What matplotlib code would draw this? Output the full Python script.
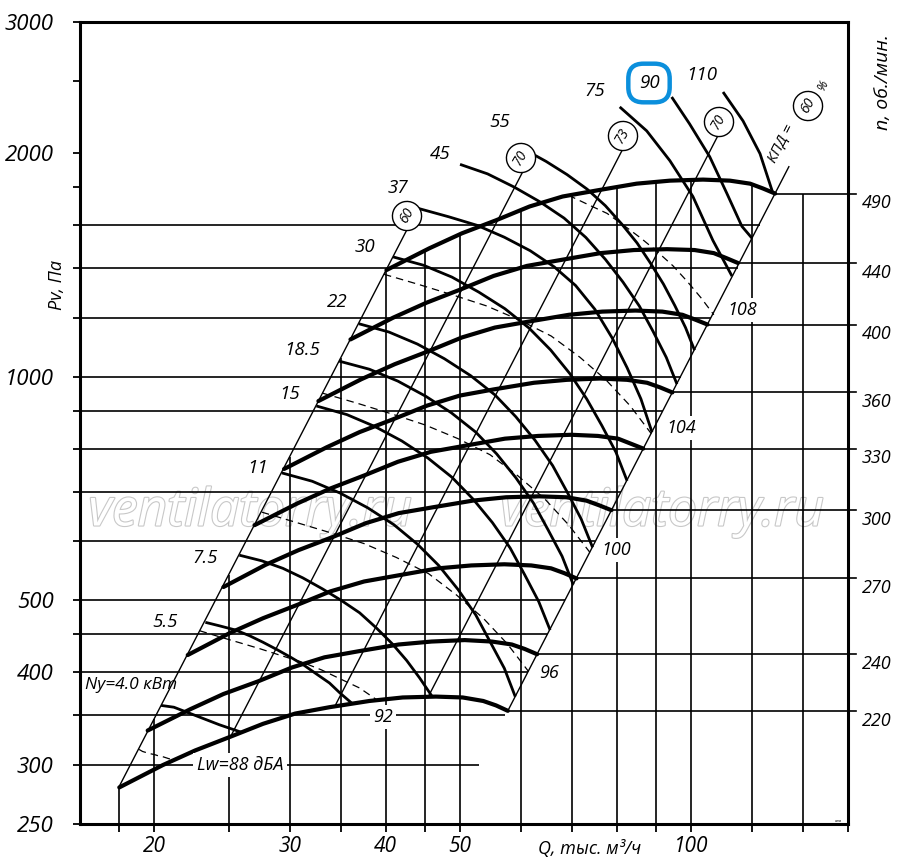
import numpy as np
import matplotlib
matplotlib.use("Agg")
import matplotlib.pyplot as plt
import matplotlib.patheffects as pe
from matplotlib.ticker import NullLocator

W, H = 900, 867
plt.rcParams["font.family"] = ["Open Sans", "DejaVu Sans"]
plt.rcParams["font.style"] = "italic"

# ---------------- data ----------------
# fan speed curves, n in rpm: Q in thousand m3/h, Pv in Pa
speed_rpm = [220, 240, 270, 300, 330, 360, 400, 440, 490]
n220_q = [18, 20.5, 22.6, 25, 27.7, 30.5, 33.8, 38.1, 42.1, 46.5, 50.4, 53.6, 55.7, 57.7]
n220_p = [280, 300, 314, 327, 341, 352, 359, 366, 370, 371, 370, 366, 361, 355]
n240_q = [19.6, 22.3, 24.6, 27.3, 30.2, 33.3, 36.9, 41.6, 45.9, 50.7, 55, 58.4, 60.7, 63]
n240_p = [334, 357, 374, 389, 406, 419, 427, 436, 440, 442, 440, 436, 430, 423]
n270_q = [22.1, 25.1, 27.7, 30.7, 33.9, 37.5, 41.5, 46.8, 51.7, 57.1, 61.9, 65.7, 68.3, 70.9]
n270_p = [422, 452, 473, 493, 514, 530, 540, 552, 557, 559, 557, 552, 544, 535]
n300_q = [24.6, 27.9, 30.8, 34.1, 37.7, 41.6, 46.1, 52, 57.4, 63.4, 68.8, 73, 75.9, 78.7]
n300_p = [521, 558, 584, 608, 635, 655, 667, 681, 688, 690, 688, 681, 671, 661]
n330_q = [27, 30.7, 33.9, 37.5, 41.5, 45.8, 50.7, 57.2, 63.2, 69.8, 75.6, 80.3, 83.5, 86.6]
n330_p = [631, 675, 707, 736, 768, 792, 807, 825, 832, 835, 832, 825, 812, 800]
n360_q = [29.5, 33.5, 37, 40.9, 45.3, 50, 55.3, 62.4, 68.9, 76.1, 82.5, 87.6, 91.1, 94.5]
n360_p = [751, 803, 842, 876, 914, 943, 961, 981, 990, 994, 990, 981, 967, 952]
n400_q = [32.7, 37.2, 41.1, 45.5, 50.3, 55.5, 61.5, 69.3, 76.6, 84.6, 91.7, 97.4, 101, 105]
n400_p = [927, 992, 1039, 1082, 1129, 1164, 1186, 1211, 1223, 1227, 1223, 1211, 1194, 1175]
n440_q = [36, 40.9, 45.2, 50, 55.3, 61.1, 67.6, 76.2, 84.2, 93, 101, 107, 111, 115]
n440_p = [1122, 1200, 1257, 1309, 1366, 1409, 1435, 1466, 1480, 1484, 1480, 1466, 1444, 1422]
n490_q = [40.1, 45.6, 50.3, 55.7, 61.6, 68.0, 75.3, 84.9, 93.8, 103.6, 112.3, 119.3, 124.0, 128.6]
n490_p = [1391, 1488, 1559, 1623, 1694, 1747, 1780, 1818, 1835, 1841, 1835, 1818, 1791, 1763]

# installed power lines Ny, kW
power_kw = [4.0, 5.5, 7.5, 11, 15, 18.5, 22, 30, 37, 45, 55, 75, 90, 110]
kw4_0_q = [20.4, 21.2, 22.6, 24.3, 26.0]
kw4_0_p = [361, 359, 350, 340, 332]
kw5_5_q = [23.3, 24.3, 25.5, 26.6, 27.7, 28.9, 30.1, 31.3, 32.5, 33.8, 34.9, 36.2]
kw5_5_p = [467, 462, 456, 448, 439, 429, 419, 409, 398, 387, 375, 363]
kw7_5_q = [25.8, 27.6, 29.4, 31.2, 33.1, 35, 37, 38.9, 40.8, 42.6, 44.3, 46]
kw7_5_p = [575, 565, 552, 536, 518, 500, 481, 459, 437, 415, 393, 371]
kw11_q = [29.3, 32.1, 34.9, 37.9, 41, 44, 46.9, 49.7, 52.4, 54.7, 57.1, 59]
kw11_p = [742, 723, 697, 666, 632, 595, 557, 517, 478, 440, 405, 371]
kw15_q = [32.5, 35.6, 38.7, 42, 45.4, 48.8, 52, 55.1, 58.1, 60.7, 63.3, 65.5]
kw15_p = [913, 889, 857, 819, 777, 732, 684, 636, 588, 541, 498, 456]
kw18_5_q = [34.8, 38.1, 41.5, 45.1, 48.7, 52.4, 55.8, 59.1, 62.3, 65.1, 67.9, 70.2]
kw18_5_p = [1049, 1023, 986, 941, 894, 842, 787, 731, 676, 622, 573, 525]
kw22_q = [36.9, 40.4, 44, 47.7, 51.6, 55.5, 59.1, 62.6, 66, 69, 71.9, 74.4]
kw22_p = [1178, 1148, 1106, 1057, 1003, 945, 883, 821, 759, 698, 643, 589]
kw30_q = [40.9, 44.8, 48.8, 52.9, 57.2, 61.5, 65.6, 69.5, 73.1, 76.5, 79.8, 82.5]
kw30_p = [1449, 1412, 1361, 1299, 1234, 1162, 1086, 1009, 933, 859, 791, 724]
kw37_q = [44.1, 48.3, 52.6, 57.1, 61.7, 66.3, 70.7, 74.9, 78.9, 82.5, 86, 88.9]
kw37_p = [1684, 1641, 1598, 1540, 1477, 1405, 1326, 1232, 1127, 1028, 933, 842]
kw45_q = [50, 54.3, 58.8, 63.5, 68.3, 72.9, 77.3, 81.5, 85.6, 89.2, 92.8, 95.8]
kw45_p = [1930, 1874, 1799, 1719, 1634, 1539, 1438, 1340, 1244, 1150, 1061, 977]
kw55_q = [60.6, 64.7, 68.9, 73.2, 77.3, 81.2, 85, 88.5, 92, 95.2, 98.3, 101]
kw55_p = [2022, 1948, 1870, 1787, 1698, 1604, 1513, 1421, 1332, 1246, 1164, 1085]
kw75_q = [80.7, 87.5, 93.8, 100.5, 106.7, 113.0]
kw75_p = [2306, 2141, 1952, 1747, 1525, 1365]
kw90_q = [94.3, 99.5, 105.7, 111.3, 116.4, 120.0]
kw90_p = [2378, 2188, 1976, 1763, 1593, 1535]
kw110_q = [110.0, 116.8, 122.9, 127.8]
kw110_p = [2415, 2208, 1995, 1763]

# sound power level lines Lw, dBA
noise_dba = [88, 92, 96, 100, 104, 108]
lw88_q = [19.1, 19.3, 19.5, 19.7, 20, 20.2, 20.5, 20.7, 20.9, 21.2]
lw88_p = [315, 313, 312, 311, 310, 309, 308, 307, 306, 305]
lw92_q = [22.9, 24.4, 25.9, 27.5, 29.3, 31.1, 33, 34.9, 37, 39]
lw92_p = [455, 446, 438, 430, 421, 413, 403, 392, 381, 367]
lw96_q = [27.6, 30.5, 33.8, 37.5, 41.3, 45.5, 49.5, 53.6, 57.6, 61.4]
lw96_p = [657, 637, 617, 596, 571, 543, 508, 473, 437, 401]
lw100_q = [33.1, 36.7, 40.7, 45, 49.7, 54.7, 59.5, 64.5, 69.2, 73.8]
lw100_p = [950, 921, 891, 861, 825, 785, 735, 684, 632, 580]
lw104_q = [39.8, 44.1, 48.9, 54.1, 59.7, 65.7, 71.6, 77.5, 83.3, 88.7]
lw104_p = [1373, 1331, 1288, 1245, 1192, 1134, 1062, 989, 913, 838]
lw108_q = [69.2, 73.3, 77.7, 81.8, 86.1, 90.3, 94.7, 98.8, 103, 107]
lw108_p = [1754, 1705, 1658, 1596, 1534, 1473, 1409, 1343, 1276, 1211]

# efficiency lines (КПД, %): lower and upper ends
eff_pct = ["60", "70", "73", "70", "60"]
eff_q_low = [18, 25.1, 34.3, 45.4, 57.7]
eff_p_low = [281, 327, 359, 370, 355]
eff_q_high = [43.4, 61.1, 83, 110, 134]
eff_p_high = [1633, 1934, 2102, 2175, 1916]

# grid of the nomogram
grid_q = [18, 20, 25, 30, 35, 40, 45, 50, 60, 70, 80, 90, 100, 120, 140]
grid_q_top_p = [280, 346, 541, 779, 1060, 1384, 1478, 1555, 1675, 1756, 1799, 1828, 1839, 1814, 1763]
grid_p = [300, 350, 400, 450, 500, 600, 700, 800, 900, 1000, 1200, 1400, 1600]
grid_p_end_q = [53, 57.3, 61.3, 65, 68.5, 75, 81, 86.6, 91.9, 96.9, 106, 115, 123]

x_ticklabels = [20, 30, 40, 50, 100]
y_ticks = [250, 300, 350, 400, 450, 500, 600, 700, 800, 900, 1000, 1200, 1400, 1600, 1800, 2000, 2500, 3000]
y_ticklabels = [250, 300, 400, 500, 1000, 2000, 3000]

speed_curves = [(n220_q, n220_p), (n240_q, n240_p), (n270_q, n270_p), (n300_q, n300_p),
                (n330_q, n330_p), (n360_q, n360_p), (n400_q, n400_p), (n440_q, n440_p),
                (n490_q, n490_p)]
power_curves = [(kw4_0_q, kw4_0_p), (kw5_5_q, kw5_5_p), (kw7_5_q, kw7_5_p), (kw11_q, kw11_p),
                (kw15_q, kw15_p), (kw18_5_q, kw18_5_p), (kw22_q, kw22_p), (kw30_q, kw30_p),
                (kw37_q, kw37_p), (kw45_q, kw45_p), (kw55_q, kw55_p), (kw75_q, kw75_p),
                (kw90_q, kw90_p), (kw110_q, kw110_p)]
noise_curves = [(lw88_q, lw88_p), (lw92_q, lw92_p), (lw96_q, lw96_p), (lw100_q, lw100_p),
                (lw104_q, lw104_p), (lw108_q, lw108_p)]

# ---------------- figure ----------------
fig = plt.figure(figsize=(W / 100, H / 100), dpi=100)
ax = fig.add_axes([80 / W, 1 - 824 / H, 768 / W, 802 / H])
ax.set_xscale("log")
ax.set_yscale("log")
ax.set_xlim(16, 160)
ax.set_ylim(250, 3000)
QMIN, PMIN, QRIGHT = 16, 250, 163.9

for q, pt in zip(grid_q, grid_q_top_p):
    ax.plot([q, q], [PMIN, pt], color="k", lw=1.2, zorder=1, solid_capstyle="butt")
for p, qe in zip(grid_p, grid_p_end_q):
    ax.plot([QMIN, qe], [p, p], color="k", lw=1.2, zorder=1, solid_capstyle="butt")

for q0, p0, q1, p1 in zip(eff_q_low, eff_p_low, eff_q_high, eff_p_high):
    ax.plot([q0, q1], [p0, p1], color="k", lw=1.0, zorder=1.5)

for q, p in noise_curves:
    ax.plot(q, p, color="k", lw=0.9, ls=(0, (6, 4)), zorder=1.6)

for q, p in power_curves:
    ax.plot(q, p, color="k", lw=2.0, zorder=2, solid_capstyle="butt")

for n, (q, p) in zip(speed_rpm, speed_curves):
    ax.plot(q, p, color="k", lw=3.0, zorder=2.5, solid_capstyle="round")
    ax.plot([q[-1], QRIGHT], [p[-1], p[-1]], color="k", lw=1.2, zorder=1, clip_on=False)
    ax.annotate(str(n), xy=(1.0, p[-1]), xycoords=("axes fraction", "data"),
                xytext=(10, -7), textcoords="offset points", ha="left", va="center",
                fontsize=13)

xt = grid_q + [160]
ax.set_xticks(xt)
ax.set_xticklabels([str(q) if q in x_ticklabels else "" for q in xt])
ax.set_yticks(y_ticks)
ax.set_yticklabels([str(p) if p in y_ticklabels else "" for p in y_ticks])
ax.xaxis.set_minor_locator(NullLocator())
ax.yaxis.set_minor_locator(NullLocator())
ax.tick_params(axis="x", direction="out", length=6, width=1.3, pad=3, labelsize=15)
ax.tick_params(axis="y", direction="out", length=5, width=1.3, pad=14, labelsize=16)
for sp in ax.spines.values():
    sp.set_linewidth(2.2)


def ftext(x, y, s, **kw):
    kw.setdefault("ha", "center")
    kw.setdefault("va", "center")
    return fig.text(x / W, 1 - y / H, s, **kw)


pw_pos = [(131, 685), (165, 622), (205, 558), (258, 468), (290, 394), (302, 350), (337, 302),
          (365, 247), (398, 188), (440, 154), (500, 122), (595, 91), (649, 83), (702, 75)]
for N, (x, y) in zip(power_kw, pw_pos):
    s = "Ny=4.0 кВт" if N == 4.0 else f"{N:g}"
    kw = {"fontsize": 12.5 if N == 4.0 else 13.5}
    if N == 90:
        kw["bbox"] = dict(boxstyle="round,pad=0.55,rounding_size=0.8", fc="none", ec="#0b8fdc", lw=3.2)
    ftext(x, y, s, **kw)

nz_pos = [(240, 765), (383, 717), (549, 673), (616, 550), (681, 428), (742, 310)]
for L, (x, y) in zip(noise_dba, nz_pos):
    s = "Lw=88 дБА" if L == 88 else str(L)
    ftext(x, y, s, fontsize=13, bbox=dict(fc="white", ec="none", pad=2.5))

circ_pos = [(407, 216), (521, 158), (623, 136), (719, 122), (808, 106)]
for lab, (x, y) in zip(eff_pct, circ_pos):
    ftext(x, y, lab, fontsize=10, rotation=60,
          bbox=dict(boxstyle="circle,pad=0.5", fc="white", ec="k", lw=1.0))
ftext(782, 144, "КПД =", fontsize=11, rotation=63)
ftext(823, 85, "%", fontsize=9, rotation=63)

ftext(57, 285, "Pv, Па", fontsize=13, rotation=90)
ftext(883, 82, "n, об./мин.", fontsize=14, rotation=90)
ftext(590, 849, "Q, тыс. м³/ч", fontsize=13)
ftext(838, 821, "ааа", fontsize=3)

for (x, y) in [(250, 512), (662, 512)]:
    ax.text(x / W, 1 - y / H, "ventilatorry.ru", transform=fig.transFigure, ha="center", va="center",
            fontsize=37, color="white", zorder=0.5,
            path_effects=[pe.withStroke(linewidth=1.6, foreground="#c8c8c8")])

fig.savefig("out.png", dpi=100)
